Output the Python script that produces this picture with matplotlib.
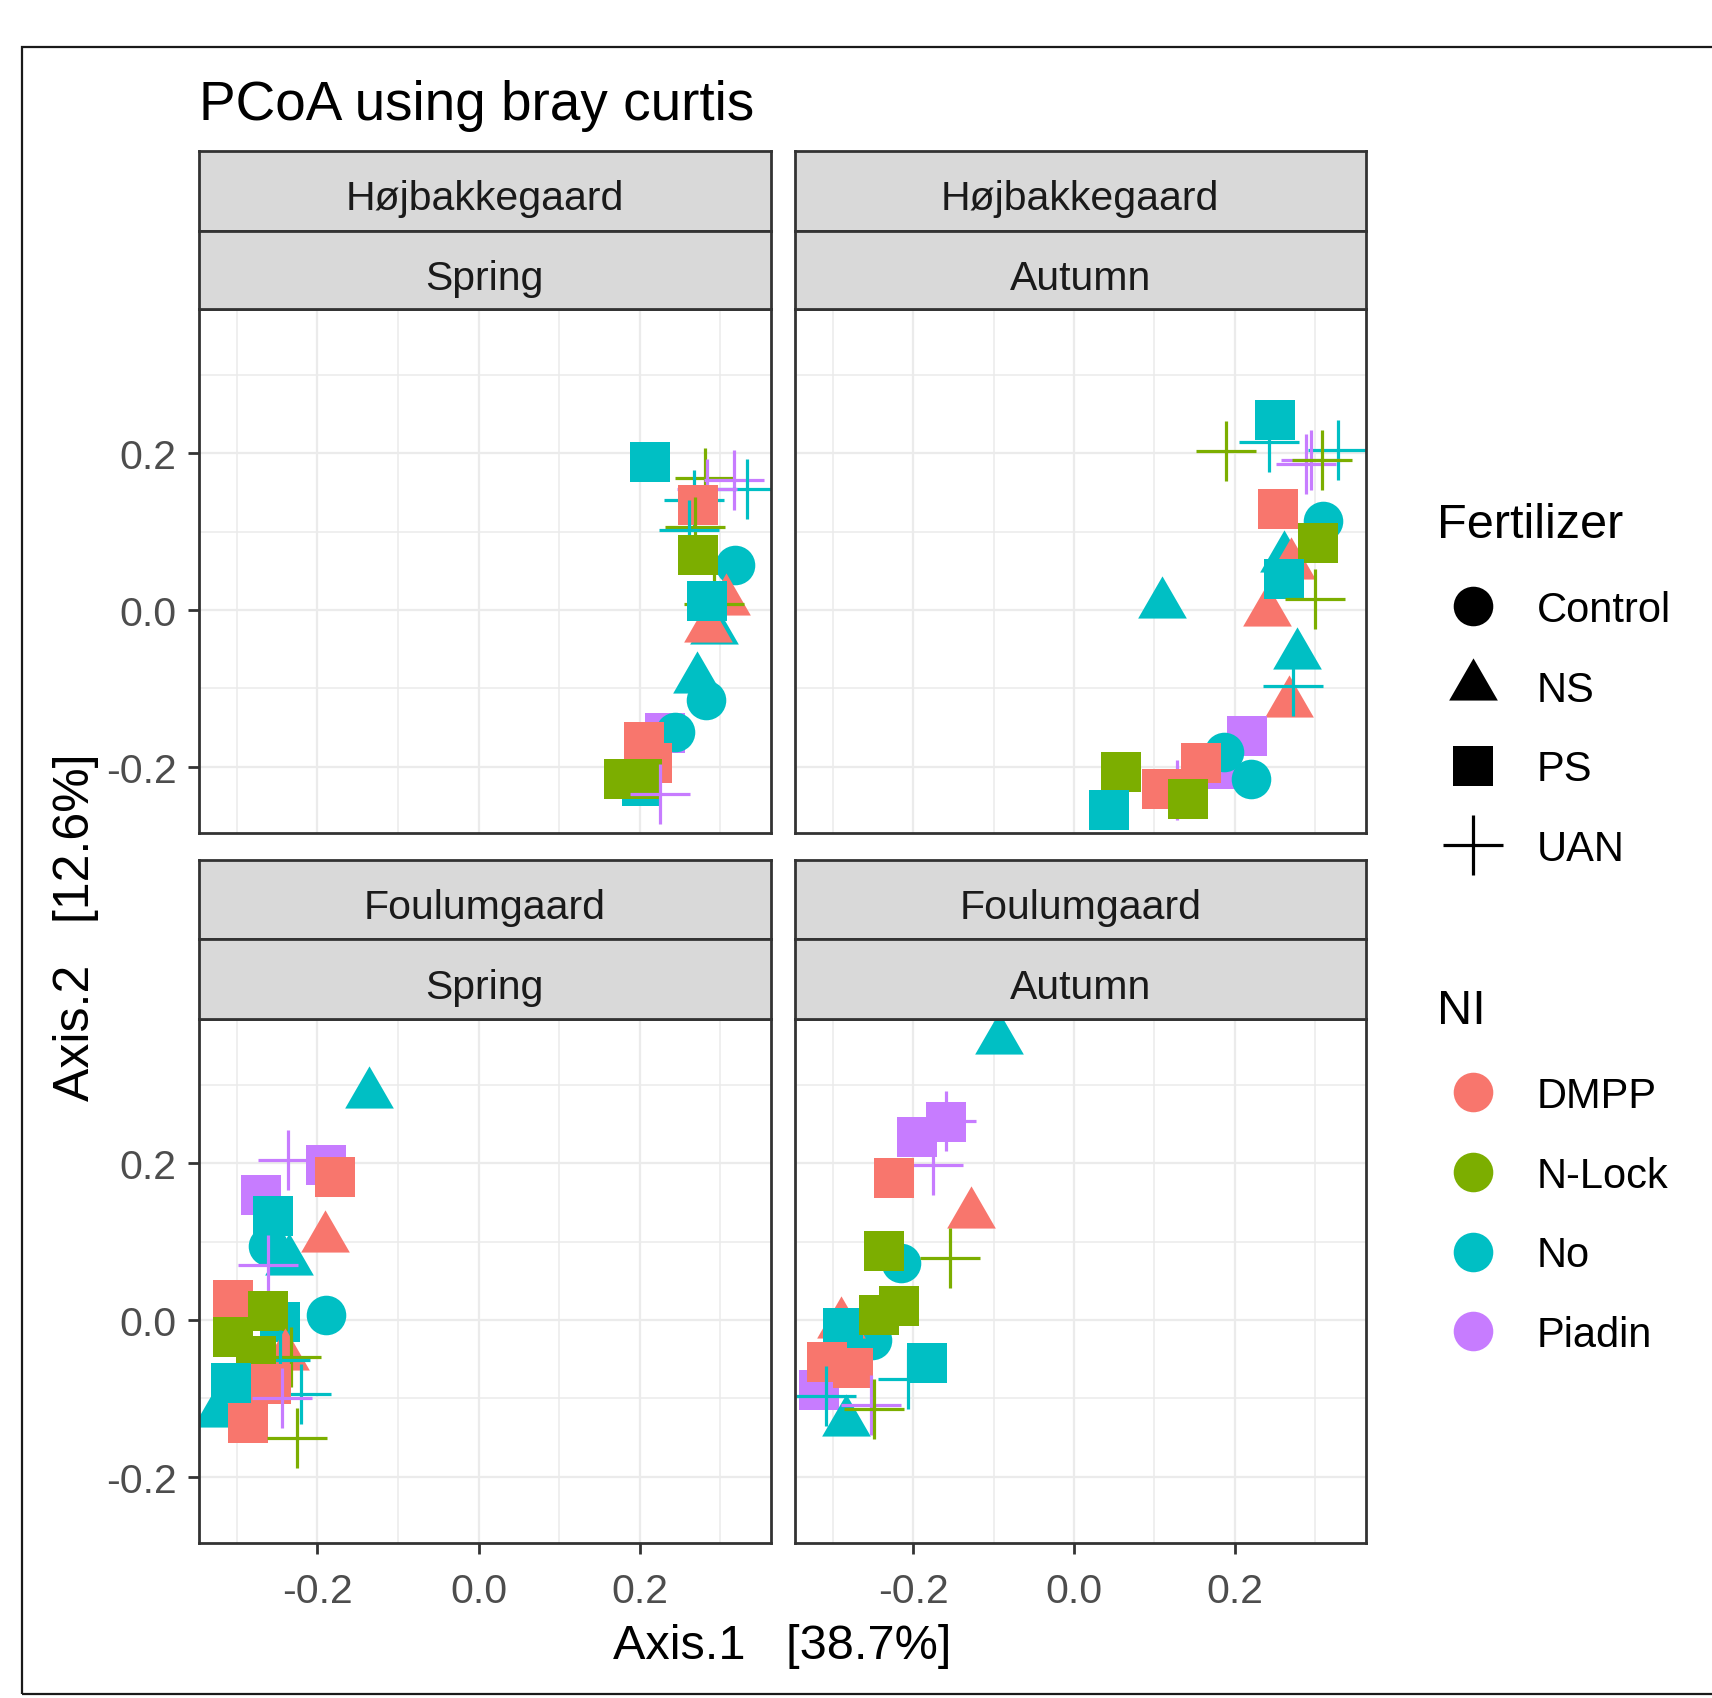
import matplotlib
matplotlib.use("Agg")
import matplotlib.pyplot as plt
from matplotlib.lines import Line2D
from matplotlib.patches import Rectangle
from matplotlib.path import Path
import numpy as np

plt.rcParams['font.family'] = ['Liberation Sans', 'DejaVu Sans']

# ---------------- data ----------------
sites = ["Højbakkegaard", "Højbakkegaard", "Foulumgaard", "Foulumgaard"]
seasons = ["Spring", "Autumn", "Spring", "Autumn"]
fert_levels = ["Control", "NS", "PS", "UAN"]
ni_levels = ["DMPP", "N-Lock", "No", "Piadin"]
ni_colors = ["#F8766D", "#7CAE00", "#00BFC4", "#C77CFF"]

# Højbakkegaard - Spring
hs_fert = ["PS", "UAN", "UAN", "UAN", "UAN", "UAN", "PS", "UAN", "UAN", "Control",
           "PS", "NS", "UAN", "NS", "NS", "PS", "NS", "Control", "PS", "Control",
           "PS", "PS", "PS", "PS", "PS", "UAN"]
hs_ni = ["No", "N-Lock", "Piadin", "No", "No", "Piadin", "DMPP", "N-Lock", "No", "No",
         "N-Lock", "DMPP", "N-Lock", "No", "DMPP", "No", "No", "No", "Piadin", "No",
         "DMPP", "DMPP", "No", "N-Lock", "N-Lock", "Piadin"]
hs_x = [0.213, 0.281, 0.317, 0.334, 0.267, 0.284, 0.273, 0.269, 0.261, 0.319,
        0.273, 0.307, 0.292, 0.292, 0.285, 0.284, 0.271, 0.282, 0.232, 0.244,
        0.206, 0.215, 0.203, 0.181, 0.203, 0.225]
hs_y = [0.189, 0.168, 0.166, 0.154, 0.141, 0.154, 0.134, 0.106, 0.102, 0.058,
        0.070, 0.012, 0.008, -0.026, -0.023, 0.012, -0.088, -0.115, -0.157, -0.156,
        -0.169, -0.195, -0.225, -0.216, -0.216, -0.235]

# Højbakkegaard - Autumn
ha_fert = ["PS", "UAN", "UAN", "UAN", "UAN", "UAN", "UAN", "PS", "Control", "NS",
           "NS", "PS", "NS", "PS", "UAN", "NS", "NS", "NS", "UAN", "PS",
           "PS", "Control", "PS", "UAN", "Control", "PS", "PS", "PS", "PS"]
ha_ni = ["No", "No", "N-Lock", "No", "Piadin", "Piadin", "N-Lock", "DMPP", "No", "No",
         "DMPP", "N-Lock", "DMPP", "No", "N-Lock", "No", "No", "DMPP", "No", "Piadin",
         "Piadin", "No", "DMPP", "Piadin", "No", "DMPP", "N-Lock", "N-Lock", "No"]
ha_x = [0.250, 0.243, 0.189, 0.329, 0.288, 0.295, 0.309, 0.254, 0.310, 0.261,
        0.270, 0.304, 0.240, 0.261, 0.300, 0.109, 0.277, 0.267, 0.273, 0.215,
        0.183, 0.187, 0.158, 0.128, 0.220, 0.109, 0.142, 0.058, 0.043]
ha_y = [0.242, 0.214, 0.203, 0.204, 0.187, 0.191, 0.191, 0.129, 0.114, 0.066,
        0.058, 0.086, -0.002, 0.039, 0.014, 0.008, -0.057, -0.119, -0.097, -0.161,
        -0.203, -0.181, -0.195, -0.230, -0.216, -0.229, -0.241, -0.207, -0.255]

# Foulumgaard - Spring
fs_fert = ["NS", "UAN", "PS", "PS", "PS", "Control", "PS", "NS", "NS", "UAN",
           "PS", "PS", "PS", "Control", "NS", "UAN", "UAN", "UAN", "PS", "PS",
           "PS", "PS", "UAN", "NS", "PS", "UAN"]
fs_ni = ["No", "Piadin", "Piadin", "DMPP", "Piadin", "No", "No", "DMPP", "No", "Piadin",
         "DMPP", "No", "N-Lock", "No", "DMPP", "No", "N-Lock", "No", "N-Lock", "N-Lock",
         "No", "DMPP", "Piadin", "No", "DMPP", "N-Lock"]
fs_x = [-0.136, -0.237, -0.190, -0.178, -0.270, -0.261, -0.255, -0.191, -0.235, -0.261,
        -0.305, -0.247, -0.261, -0.190, -0.240, -0.220, -0.233, -0.247, -0.305, -0.276,
        -0.307, -0.258, -0.244, -0.325, -0.286, -0.225]
fs_y = [0.288, 0.204, 0.198, 0.183, 0.159, 0.094, 0.133, 0.105, 0.075, 0.070,
        0.025, -0.002, 0.011, 0.007, -0.046, -0.095, -0.047, -0.051, -0.022, -0.046,
        -0.080, -0.082, -0.100, -0.119, -0.131, -0.151]

# Foulumgaard - Autumn
fa_fert = ["NS", "PS", "PS", "UAN", "UAN", "PS", "NS", "Control", "PS", "UAN",
           "Control", "NS", "PS", "PS", "PS", "PS", "PS", "PS", "PS", "UAN",
           "UAN", "NS", "UAN", "UAN"]
fa_ni = ["No", "Piadin", "Piadin", "Piadin", "Piadin", "DMPP", "DMPP", "No", "N-Lock", "N-Lock",
         "No", "DMPP", "No", "N-Lock", "N-Lock", "Piadin", "DMPP", "DMPP", "No", "No",
         "No", "No", "Piadin", "N-Lock"]
fa_x = [-0.093, -0.195, -0.159, -0.159, -0.175, -0.224, -0.128, -0.215, -0.236, -0.154,
        -0.251, -0.290, -0.288, -0.243, -0.218, -0.317, -0.308, -0.275, -0.183, -0.207,
        -0.309, -0.284, -0.253, -0.249]
fa_y = [0.358, 0.233, 0.253, 0.254, 0.198, 0.181, 0.135, 0.073, 0.088, 0.079,
        -0.026, -0.005, -0.010, 0.007, 0.018, -0.089, -0.054, -0.061, -0.055, -0.075,
        -0.097, -0.130, -0.109, -0.113]

panels = [(hs_x, hs_y, hs_fert, hs_ni), (ha_x, ha_y, ha_fert, ha_ni),
          (fs_x, fs_y, fs_fert, fs_ni), (fa_x, fa_y, fa_fert, fa_ni)]

x_major = [-0.2, 0.0, 0.2]
x_minor = [-0.3, -0.1, 0.1, 0.3]
y_major = [-0.2, 0.0, 0.2]
y_minor = [-0.1, 0.1, 0.3]
tick_labels = ["-0.2", "0.0", "0.2"]

# ---------------- styles ----------------
tri = Path([(0, 1), (-0.866, -0.5), (0.866, -0.5), (0, 1)],
           [Path.MOVETO, Path.LINETO, Path.LINETO, Path.CLOSEPOLY])
fert_marker = {"Control": "o", "NS": tri, "PS": "s", "UAN": "+"}
fert_size = {"Control": 28.5, "NS": 40.5, "PS": 28.8, "UAN": 43.0}
ni_color = dict(zip(ni_levels, ni_colors))

W, H = 1712, 1699
fig = plt.figure(figsize=(W / 100, H / 100), dpi=100)

def fx(px):
    return px / W

def fy(py):
    return 1 - py / H

col_x = [(198.7, 770.8), (794.8, 1365.8)]
row_y = [(310.0, 834.0), (1020.0, 1544.0)]
strip1 = [(151.5, 231.5), (861.0, 940.0)]
strip2 = [(231.5, 310.0), (940.0, 1020.0)]

xlim = (-0.3475, 0.3630)
ylim = (-0.2846, 0.3842)
dark = "#333333"
spine_lw = 2.0

for i, (px, py, pf, pn) in enumerate(panels):
    r, c = divmod(i, 2)
    x0, x1 = col_x[c]
    yt, yb = row_y[r]
    ax = fig.add_axes([fx(x0), fy(yb), fx(x1) - fx(x0), fy(yt) - fy(yb)])
    ax.set_xlim(*xlim)
    ax.set_ylim(*ylim)
    for v in x_minor:
        ax.axvline(v, color="#EBEBEB", lw=1.1, zorder=0)
    for v in x_major:
        ax.axvline(v, color="#EBEBEB", lw=1.6, zorder=0)
    for v in y_minor:
        ax.axhline(v, color="#EBEBEB", lw=1.1, zorder=0)
    for v in y_major:
        ax.axhline(v, color="#EBEBEB", lw=1.6, zorder=0)
    for k, (xx, yy, ff, nn) in enumerate(zip(px, py, pf, pn)):
        col = ni_color[nn]
        ax.plot([xx], [yy], ls="none", marker=fert_marker[ff], ms=fert_size[ff],
                color=col, mec=col, mfc=col, mew=2.3 if ff == "UAN" else 0,
                zorder=2 + k * 0.01)
    ax.set_xticks(x_major)
    ax.set_yticks(y_major)
    ax.set_xticklabels(tick_labels if r == 1 else [])
    ax.set_yticklabels(tick_labels if c == 0 else [])
    ax.tick_params(axis="both", width=2.0, color=dark,
                   labelsize=29.5, labelcolor="#4D4D4D")
    ax.tick_params(axis="x", length=8 if r == 1 else 0, pad=13)
    ax.tick_params(axis="y", length=8 if c == 0 else 0, pad=8)
    for s in ax.spines.values():
        s.set_color(dark)
        s.set_linewidth(spine_lw)
    # strips
    for (st, sb), label in ((strip1[r], sites[i]), (strip2[r], seasons[i])):
        sax = fig.add_axes([fx(x0), fy(sb), fx(x1) - fx(x0), fy(st) - fy(sb)])
        sax.set_facecolor("#D9D9D9")
        sax.set_xticks([])
        sax.set_yticks([])
        for s in sax.spines.values():
            s.set_color(dark)
            s.set_linewidth(spine_lw)
        hgt = sb - st
        sax.text(0.5, 0.5 - 19.0 / hgt, label, ha="center", va="baseline",
                 fontsize=29.5, color="#1A1A1A", transform=sax.transAxes)

# title and axis titles
fig.text(fx(198.7), fy(120), "PCoA using bray curtis", fontsize=39.5, ha="left",
         va="baseline", color="black")
fig.text(fx(782), fy(1647), "Axis.1   [38.7%]", fontsize=35, ha="center",
         va="center", color="black")
fig.text(fx(76), fy(927), "Axis.2   [12.6%]", fontsize=36, ha="center",
         va="center", rotation=90, color="black")

# outer border
fig.add_artist(Rectangle((fx(22), fy(1695)), 1.2, fy(48) - fy(1695),
                         transform=fig.transFigure, fill=False, ec="#1A1A1A",
                         lw=1.6, clip_on=False))

# legends
fert_handles = [Line2D([], [], ls="none", marker=fert_marker[f], ms=fert_size[f],
                       color="black", mec="black", mfc="black",
                       mew=2.3 if f == "UAN" else 0) for f in fert_levels]
ni_handles = [Line2D([], [], ls="none", marker="o", ms=28.5, color=c, mfc=c, mew=0)
              for c in ni_colors]

common = dict(frameon=False, fontsize=30, title_fontsize=35, loc="upper left",
              handlelength=1.75, handletextpad=0.65, labelspacing=0.95,
              borderpad=0, borderaxespad=0, alignment="left")
leg1 = fig.legend(fert_handles, fert_levels, title="Fertilizer",
                  bbox_to_anchor=(fx(1437), fy(503)), **common)
leg2 = fig.legend(ni_handles, ni_levels, title="NI",
                  bbox_to_anchor=(fx(1437), fy(989)), **common)
for leg in (leg1, leg2):
    leg._legend_box.sep = 31

fig.savefig("out.png", dpi=100)
